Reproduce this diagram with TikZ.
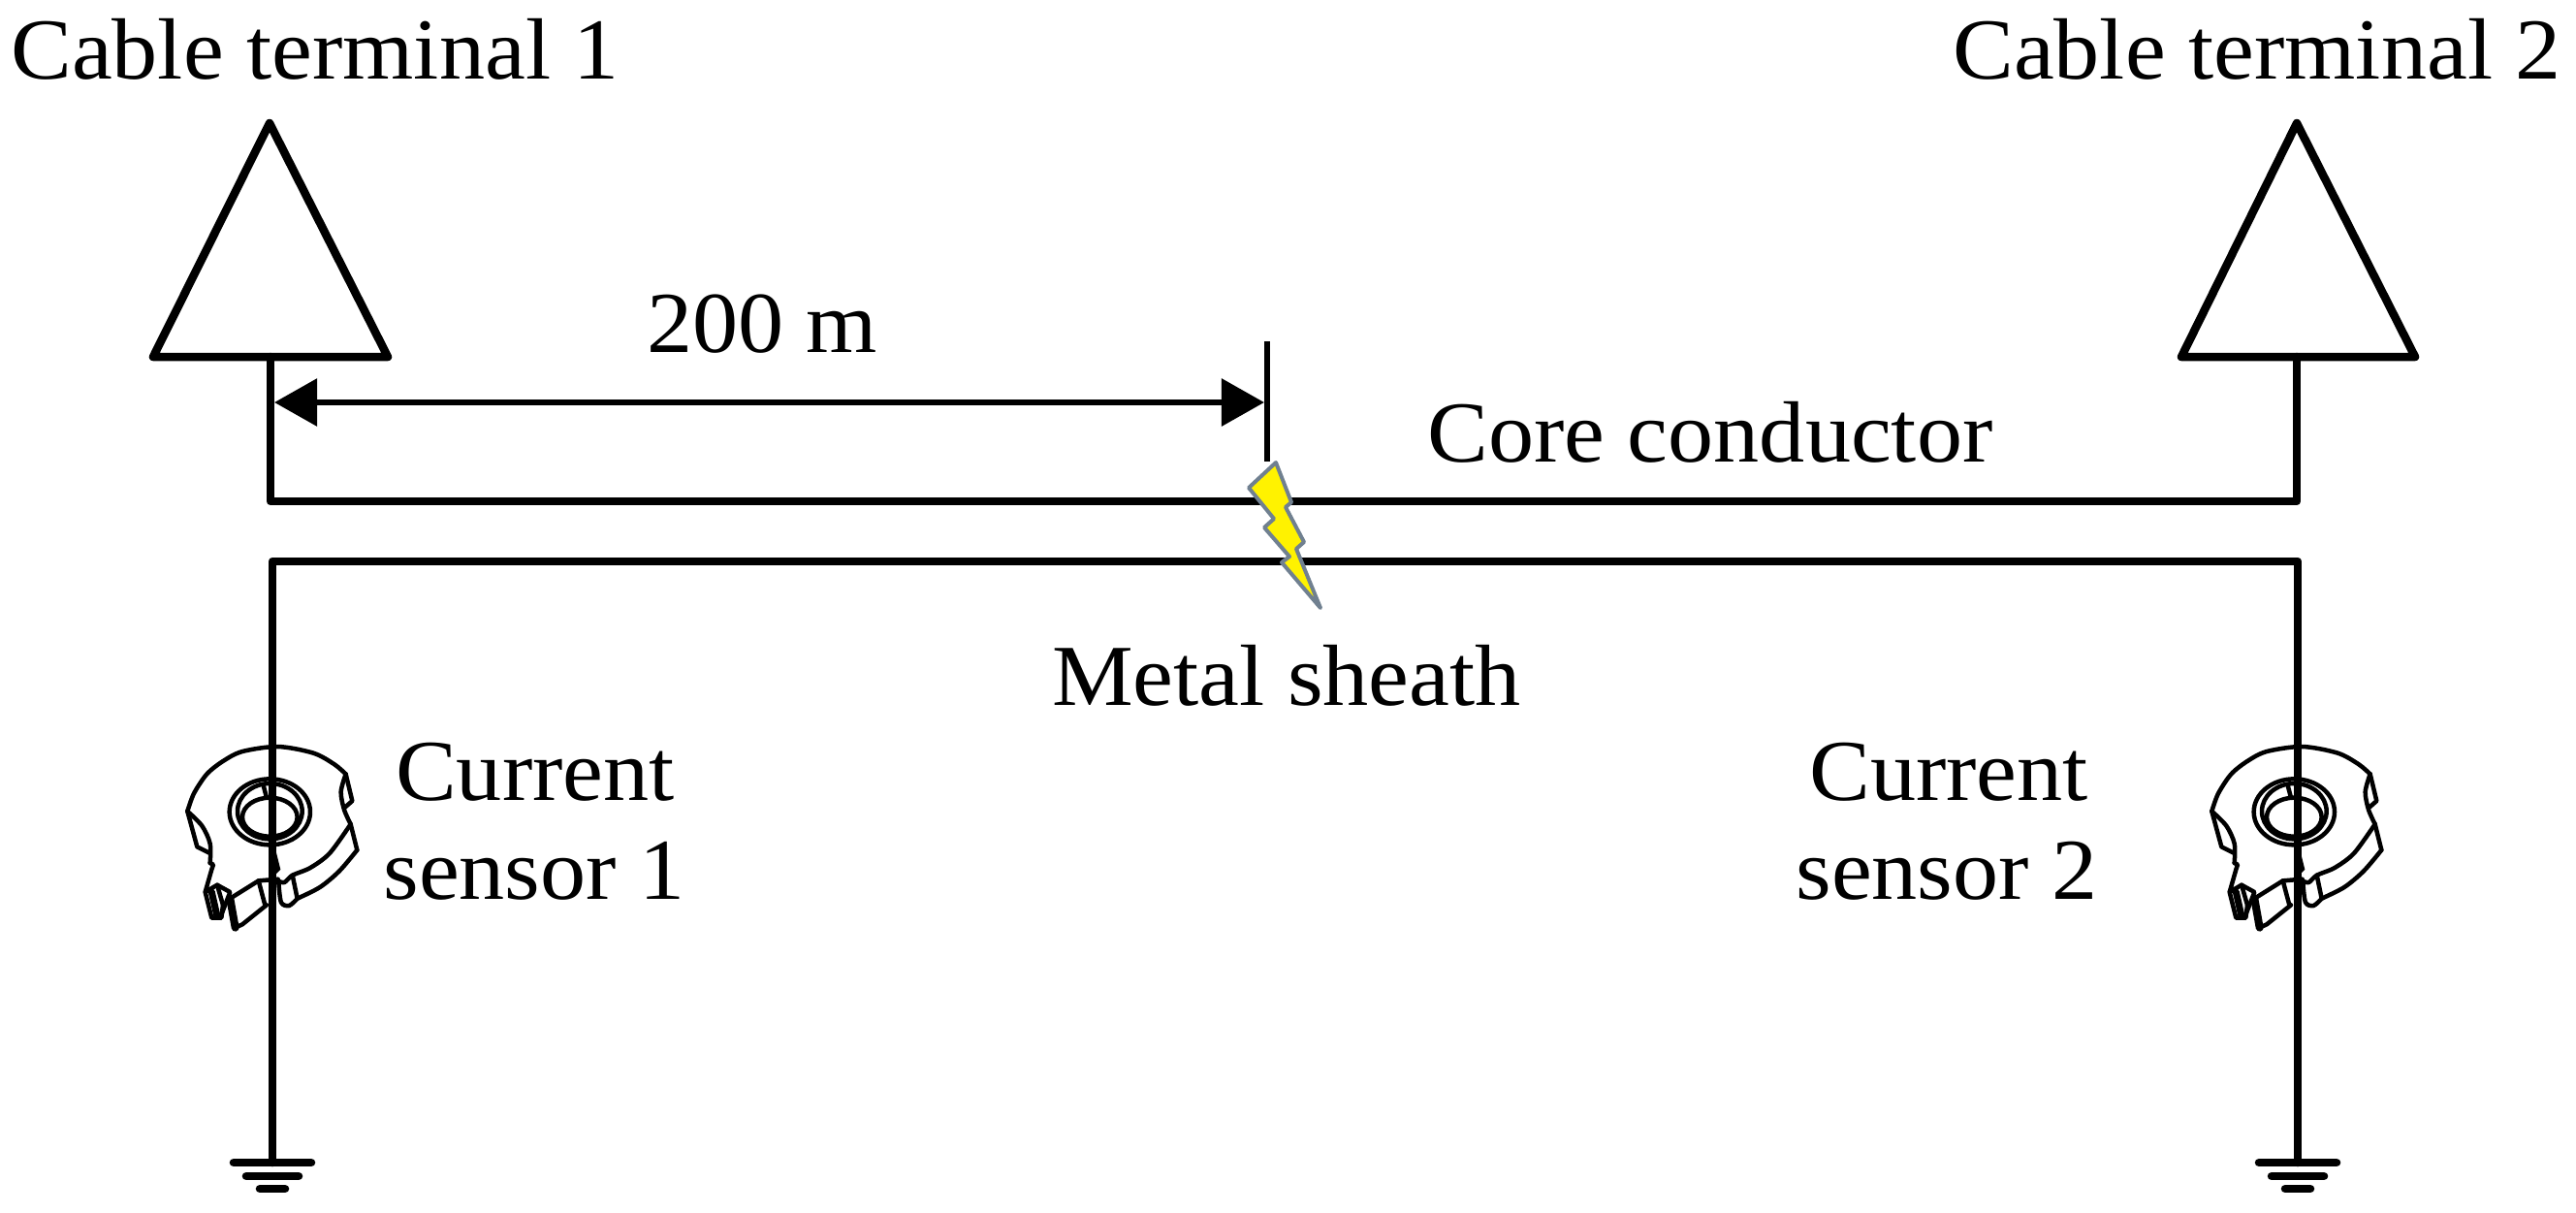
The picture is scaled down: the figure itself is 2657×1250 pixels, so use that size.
\documentclass[tikz,border=0pt]{standalone}
\usepackage{fontspec}
\setmainfont[FakeStretch=1.05]{Liberation Serif}
\usetikzlibrary{arrows.meta}
\definecolor{boltedge}{RGB}{112,128,144}
\tikzset{
  wire/.style={line width=0.085cm,line join=round,line cap=round},
  dim/.style={line width=0.06cm,{Triangle[length=0.44cm,width=0.48cm]}-{Triangle[length=0.44cm,width=0.48cm]}},
  lbl/.style={anchor=base,inner sep=0pt,font=\fontsize{25.5}{30}\selectfont},
  skw/.style={line width=0.045cm,line join=round,line cap=round},
  sensorpic/.pic={
    \begin{scope}[scale=1/3,skw]
      \draw[smooth] plot coordinates {(130,350) (150,295) (190,235) (240,195) (300,165) (410,150) (520,170) (585,205) (620,235)};
      \draw (620,235) -- (640,318) -- (615,340);
      \draw[smooth] plot coordinates {(620,235) (605,290) (615,345) (635,390)};
      \draw (635,390) -- (655,470);
      \draw[smooth] plot coordinates {(655,470) (600,535) (540,585) (470,620)};
      \draw[smooth] plot coordinates {(470,620) (445,642) (420,632) (412,570)};
      \draw[smooth] plot coordinates {(635,390) (570,480) (510,525) (455,548) (430,570) (410,565)};
      \draw (455,548) -- (470,620);
      \draw (130,350) -- (160,460) -- (200,480);
      \draw[smooth] plot coordinates {(130,350) (175,395) (200,450) (200,510)};
      \draw (200,510) -- (210,515) -- (205,530) -- (185,600) -- (222,578) -- (262,600) -- (235,670);
      \draw (185,600) -- (205,680) -- (235,680) -- (240,640);
      \draw[line width=0.07cm] (205,600) -- (222,675);
      \draw (222,578) -- (240,640);
      \draw (262,620) -- (350,565) -- (410,560);
      \draw[line width=0.08cm] (262,620) -- (278,710);
      \draw (278,710) -- (300,700) -- (375,640);
      \draw (350,565) -- (370,640);
      \draw (385,352) ellipse [x radius=125,y radius=102];
      \draw (385,350) ellipse [x radius=100,y radius=86];
      \draw (385,368) ellipse [x radius=85,y radius=60];
      \draw (365,270) -- (375,308);
      \fill (398,450) -- (418,530) -- (400,548) -- (385,450) -- cycle;
    \end{scope}
  }
}
\begin{document}
\begin{tikzpicture}[x=0.01cm,y=-0.01cm]
\useasboundingbox (0,0) rectangle (2657,1250);
% coordinates
\coordinate (apexL) at (278,127);
\coordinate (baseLa) at (158,368);
\coordinate (baseLb) at (400,368);
\coordinate (footL) at (279,368);
\coordinate (coreL) at (279,517);
\coordinate (apexR) at (2369,127);
\coordinate (baseRa) at (2250,368);
\coordinate (baseRb) at (2491,368);
\coordinate (footR) at (2369,368);
\coordinate (coreR) at (2369,517);
\coordinate (shL) at (281,579);
\coordinate (shR) at (2370,579);
\coordinate (gndL) at (281,1199);
\coordinate (gndR) at (2370,1199);
\coordinate (tickT) at (1307,352);
\coordinate (tickB) at (1307,476);
\coordinate (dimL) at (283,415);
\coordinate (dimR) at (1304,415);
% sensors
\pic at (150,720) {sensorpic};
\pic at (2238,720) {sensorpic};
% triangles
\draw[wire] (apexL) -- (baseLb) -- (baseLa) -- cycle;
\draw[wire] (apexR) -- (baseRb) -- (baseRa) -- cycle;
% core and sheath
\draw[wire] (footL) -- (coreL) -- (coreR) -- (footR);
\draw[wire] (gndL) -- (shL) -- (shR) -- (gndR);
% ground symbols
\foreach \g in {gndL,gndR}{
  \draw[wire] ([xshift=-0.40cm]\g) -- ([xshift=0.40cm]\g);
  \draw[wire] ([xshift=-0.27cm,yshift=-0.14cm]\g) -- ([xshift=0.27cm,yshift=-0.14cm]\g);
  \draw[wire] ([xshift=-0.13cm,yshift=-0.27cm]\g) -- ([xshift=0.13cm,yshift=-0.27cm]\g);
}
% dimension
\draw[line width=0.06cm] (tickT) -- (tickB);
\draw[dim] (dimL) -- (dimR);
% bolt
\draw[line width=0.04cm,draw=boltedge,fill=yellow,line join=round]
  (1316,477) -- (1332,518) -- (1326,523) -- (1345,559) -- (1337,566) -- (1362,627)
  -- (1322,580) -- (1330,574) -- (1304,544) -- (1314,535) -- (1288,503) -- cycle;
% labels
\node[lbl] (t1) at (325,81) {Cable terminal 1};
\node[lbl] (t2) at (2328,81) {Cable terminal 2};
\node[lbl] (d) at (786,363) {200 m};
\node[lbl] (cc) at (1764,476) {Core conductor};
\node[lbl] (ms) at (1327,727) {Metal sheath};
\node[lbl] (s1a) at (552,825) {Current};
\node[lbl] (s1b) at (551,927) {sensor 1};
\node[lbl] (s2a) at (2010,825) {Current};
\node[lbl] (s2b) at (2008,927) {sensor 2};
\end{tikzpicture}
\end{document}
